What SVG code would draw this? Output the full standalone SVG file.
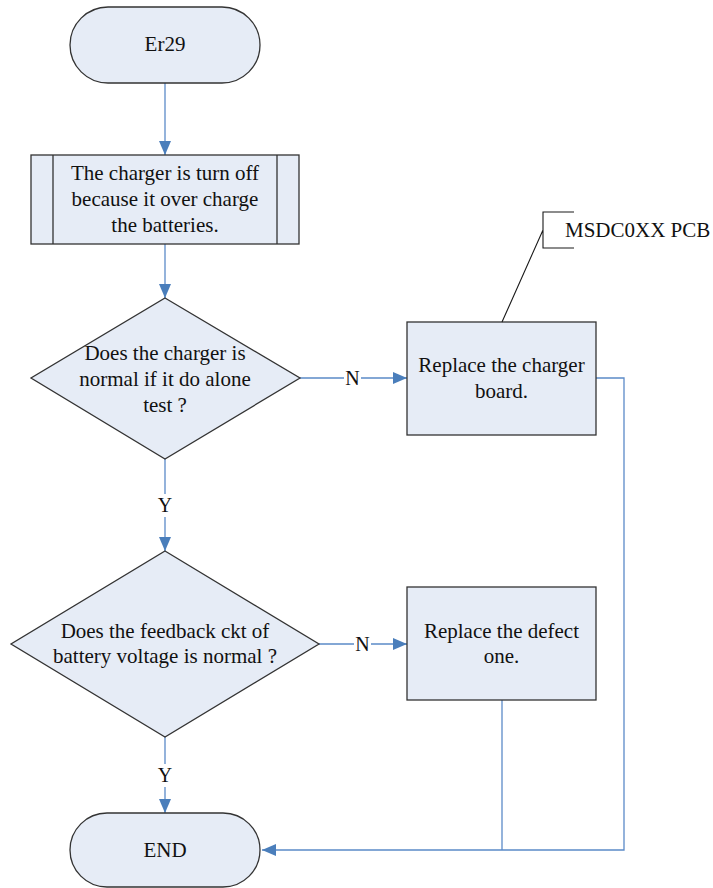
<svg xmlns="http://www.w3.org/2000/svg" width="713" height="888" viewBox="0 0 713 888">
  <defs>
    <marker id="arrow" markerWidth="14" markerHeight="12" refX="14" refY="6" orient="auto" markerUnits="userSpaceOnUse">
      <path d="M0,0 L14,6 L0,12 Z" fill="#4a7ebb"/>
    </marker>
  </defs>
  <style>
    .shape { fill: #e6ecf6; stroke: #333333; stroke-width: 1.3; }
    .edge { fill: none; stroke: #5b8ac8; stroke-width: 1.3; }
    .lead { fill: none; stroke: #1a1a1a; stroke-width: 1.1; }
    text { font-family: "Liberation Serif", "Times New Roman", serif; font-size: 21px; fill: #111111; }
    .c { text-anchor: middle; }
    .lbl { font-size: 20px; }
  </style>

  <rect width="713" height="888" fill="#ffffff"/>

  <!-- connectors -->
  <g id="connectors">
    <path class="edge" d="M165,83 V155" marker-end="url(#arrow)"/>
    <path class="edge" d="M165,244 V298" marker-end="url(#arrow)"/>
    <path class="edge" d="M300,378 H344 M361,378 H407" marker-end="url(#arrow)"/>
    <path class="edge" d="M165,459 V494 M165,517 V551" marker-end="url(#arrow)"/>
    <path class="edge" d="M319,644 H354 M371,644 H407" marker-end="url(#arrow)"/>
    <path class="edge" d="M165,737 V764 M165,787 V813" marker-end="url(#arrow)"/>
    <path class="edge" d="M596,378 H624 V850 H262" marker-end="url(#arrow)"/>
    <path class="edge" d="M502,700 V850"/>
    <text class="c lbl" x="352.5" y="385">N</text>
    <text class="c lbl" x="165" y="512">Y</text>
    <text class="c lbl" x="362.5" y="651">N</text>
    <text class="c lbl" x="165" y="782">Y</text>
  </g>

  <g id="start">
    <rect class="shape" x="70" y="7" width="190" height="76" rx="38" ry="38"/>
    <text class="c" x="165" y="51">Er29</text>
  </g>

  <g id="predefined">
    <rect class="shape" x="31" y="155" width="268" height="89"/>
    <path class="shape" d="M53,155 V244 M277,155 V244"/>
    <text class="c" x="165" y="180">The charger is turn off</text>
    <text class="c" x="165" y="206">because it over charge</text>
    <text class="c" x="165" y="232">the batteries.</text>
  </g>

  <g id="decision1">
    <path class="shape" d="M165,298 L300,378 L165,459 L31,378 Z"/>
    <text class="c" x="165" y="360">Does the charger is</text>
    <text class="c" x="165" y="386">normal if it do alone</text>
    <text class="c" x="165" y="412">test ?</text>
  </g>

  <g id="replace-charger">
    <rect class="shape" x="407" y="322" width="189" height="113"/>
    <text class="c" x="501.5" y="372">Replace the charger</text>
    <text class="c" x="501.5" y="398">board.</text>
  </g>

  <g id="callout">
    <path class="lead" d="M574,212 H543 V248 H574 M543,230 L502,322"/>
    <text x="565" y="237">MSDC0XX PCB</text>
  </g>

  <g id="decision2">
    <path class="shape" d="M165,551 L319,644 L165,737 L11,644 Z"/>
    <text class="c" x="165" y="638">Does the feedback ckt of</text>
    <text class="c" x="165" y="663">battery voltage is normal ?</text>
  </g>

  <g id="replace-defect">
    <rect class="shape" x="407" y="587" width="189" height="113"/>
    <text class="c" x="501.5" y="638">Replace the defect</text>
    <text class="c" x="501.5" y="663">one.</text>
  </g>

  <g id="end">
    <rect class="shape" x="70" y="813" width="190" height="74" rx="37" ry="37"/>
    <text class="c" x="165" y="857">END</text>
  </g>
</svg>
